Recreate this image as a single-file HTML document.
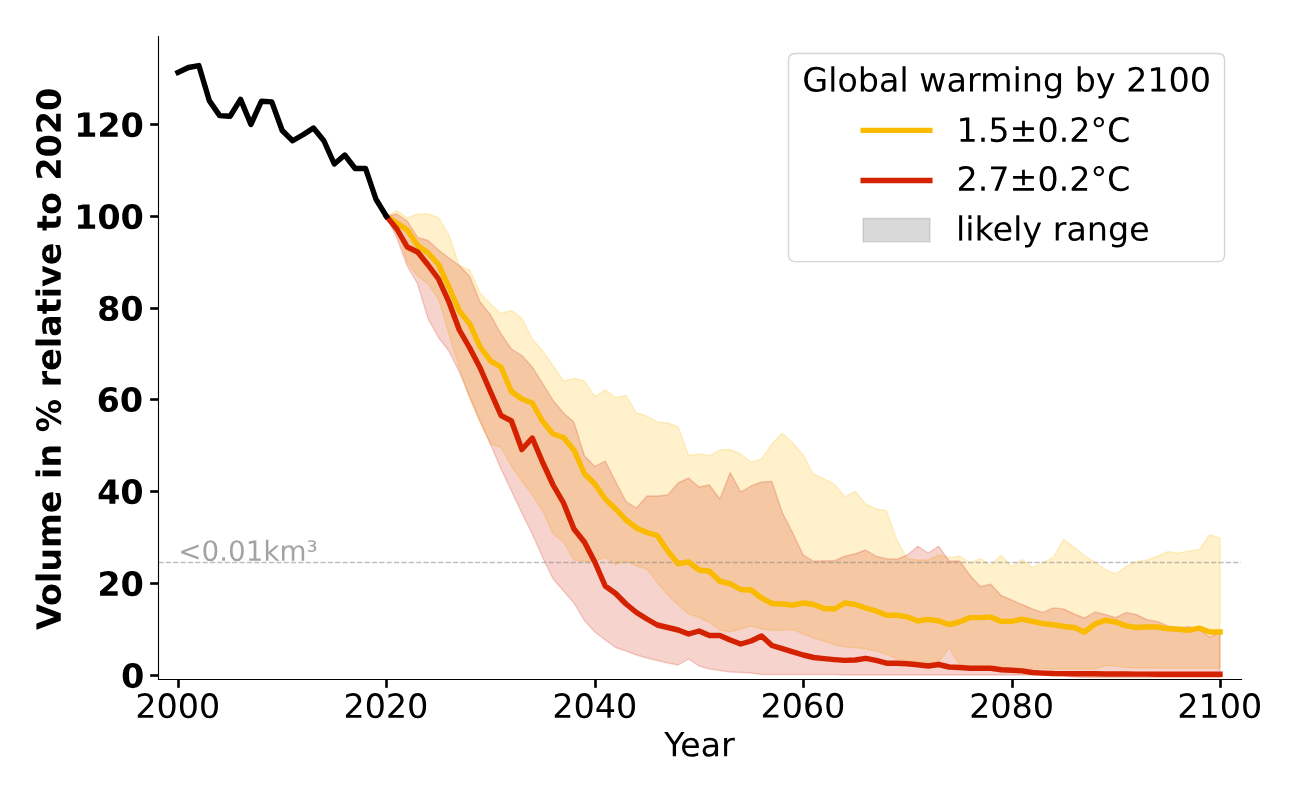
<!DOCTYPE html>
<html lang="en"><head><meta charset="utf-8"><title>Volume in % relative to 2020 - Global warming by 2100</title><style>html,body{margin:0;padding:0;background:#fff;overflow:hidden;font-family:"Liberation Sans",sans-serif}#chart{position:relative;width:1300px;height:800px}svg{display:block;position:absolute;left:0;top:0}.tl{position:absolute;left:0;top:0;width:1300px;height:800px;pointer-events:none}.tl span{position:absolute;color:transparent;white-space:nowrap;line-height:1;font-family:"Liberation Sans",sans-serif}</style></head><body>
<div id="chart">
<svg width="1300" height="800" viewBox="0 0 936 576" version="1.1">
 <defs>
  <style type="text/css">*{stroke-linejoin: round; stroke-linecap: butt}</style>
 </defs>
 <g id="figure_1">
  <g id="patch_1">
   <path d="M 0 576 
L 936 576 
L 936 0 
L 0 0 
z
" style="fill: #ffffff"/>
  </g>
  <g id="axes_1">
   <g id="patch_2">
    <path d="M 113.76 489.06 
L 893.52 489.06 
L 893.52 25.92 
L 113.76 25.92 
z
" style="fill: #ffffff"/>
   </g>
   <g id="FillBetweenPolyCollection_1">
    <defs>
     <path id="m8008a99541" d="M 278.208 -420.3 
L 278.208 -420.3 
L 285.7104 -410.4 
L 293.2128 -387.36 
L 300.7152 -377.28 
L 308.2176 -371.52 
L 315.72 -360.72 
L 323.2224 -335.52 
L 330.7248 -311.04 
L 338.2272 -288.72 
L 345.7296 -271.44 
L 353.232 -256.32 
L 360.7344 -253.8 
L 368.2368 -240.48 
L 375.7392 -229.68 
L 383.2416 -219.6 
L 390.744 -208.08 
L 398.2464 -191.52 
L 405.7488 -185.76 
L 413.2512 -172.8 
L 420.7536 -171.72 
L 428.256 -171.72 
L 435.7584 -174.744 
L 443.2608 -169.488 
L 450.7632 -172.08 
L 458.2656 -168.48 
L 465.768 -166.32 
L 473.2704 -156.6 
L 480.7728 -147.6 
L 488.2752 -140.4 
L 495.7776 -133.92 
L 503.28 -131.4 
L 510.7824 -127.8 
L 518.2848 -122.4 
L 525.7872 -120.96 
L 533.2896 -123.12 
L 540.792 -125.28 
L 548.2944 -123.12 
L 555.7968 -122.256 
L 563.2992 -122.256 
L 570.8016 -122.76 
L 578.304 -119.52 
L 585.8064 -116.64 
L 593.3088 -114.3 
L 600.8112 -111.744 
L 608.3136 -110.16 
L 615.816 -109.62 
L 623.3184 -108.72 
L 630.8208 -107.28 
L 638.3232 -104.94 
L 645.8256 -101.448 
L 653.328 -100.08 
L 660.8304 -99.648 
L 668.3328 -99.072 
L 675.8352 -99.36 
L 683.3376 -109.62 
L 690.84 -97.2 
L 698.3424 -94.608 
L 705.8448 -94.608 
L 713.3472 -94.608 
L 720.8496 -94.608 
L 728.352 -94.608 
L 735.8544 -94.608 
L 743.3568 -94.608 
L 750.8592 -94.608 
L 758.3616 -94.32 
L 765.864 -94.32 
L 773.3664 -94.32 
L 780.8688 -94.32 
L 788.3712 -94.32 
L 795.8736 -96.84 
L 803.376 -96.264 
L 810.8784 -95.4 
L 818.3808 -95.04 
L 825.8832 -95.04 
L 833.3856 -95.04 
L 840.888 -94.824 
L 848.3904 -94.824 
L 855.8928 -94.824 
L 863.3952 -94.824 
L 870.8976 -94.824 
L 878.4 -94.824 
L 878.4 -188.568 
L 878.4 -188.568 
L 870.8976 -190.98 
L 863.3952 -180.432 
L 855.8928 -179.28 
L 848.3904 -177.696 
L 840.888 -178.848 
L 833.3856 -175.608 
L 825.8832 -172.8 
L 818.3808 -171.54 
L 810.8784 -168.3 
L 803.376 -162.648 
L 795.8736 -165.888 
L 788.3712 -171.144 
L 780.8688 -176.04 
L 773.3664 -182.088 
L 765.864 -187.74 
L 758.3616 -174.78 
L 750.8592 -170.712 
L 743.3568 -167.472 
L 735.8544 -173.16 
L 728.352 -167.976 
L 720.8496 -176.4 
L 713.3472 -168.624 
L 705.8448 -173.952 
L 698.3424 -170.712 
L 690.84 -175.536 
L 683.3376 -174.672 
L 675.8352 -176.4 
L 668.3328 -172.8 
L 660.8304 -172.8 
L 653.328 -173.7 
L 645.8256 -187.2 
L 638.3232 -208.26 
L 630.8208 -209.7 
L 623.3184 -212.94 
L 615.816 -222.3 
L 608.3136 -218.34 
L 600.8112 -227.34 
L 593.3088 -231.3 
L 585.8064 -234.36 
L 578.304 -248.4 
L 570.8016 -257.04 
L 563.2992 -264.24 
L 555.7968 -256.5 
L 548.2944 -245.52 
L 540.792 -243.36 
L 533.2896 -249.12 
L 525.7872 -252.36 
L 518.2848 -252 
L 510.7824 -248.04 
L 503.28 -249.12 
L 495.7776 -248.04 
L 488.2752 -268.56 
L 480.7728 -271.44 
L 473.2704 -272.16 
L 465.768 -276.48 
L 458.2656 -278.64 
L 450.7632 -291.24 
L 443.2608 -289.8 
L 435.7584 -295.2 
L 428.256 -290.52 
L 420.7536 -301.68 
L 413.2512 -303.624 
L 405.7488 -301.68 
L 398.2464 -312.84 
L 390.744 -323.28 
L 383.2416 -331.92 
L 375.7392 -347.04 
L 368.2368 -352.512 
L 360.7344 -350.28 
L 353.232 -357.12 
L 345.7296 -365.04 
L 338.2272 -381.6 
L 330.7248 -384.84 
L 323.2224 -406.8 
L 315.72 -419.4 
L 308.2176 -421.92 
L 300.7152 -421.92 
L 293.2128 -419.04 
L 285.7104 -424.44 
L 278.208 -420.3 
z
" style="stroke: #f9ba00; stroke-opacity: 0.2"/>
    </defs>
    <g clip-path="url(#p428e2b717a)">
     <use href="#m8008a99541" x="0" y="576" style="fill: #f9ba00; fill-opacity: 0.2; stroke: #f9ba00; stroke-opacity: 0.2"/>
    </g>
   </g>
   <g id="FillBetweenPolyCollection_2"/>
   <g id="FillBetweenPolyCollection_3">
    <defs>
     <path id="mc709fe1825" d="M 278.208 -420.3 
L 278.208 -420.3 
L 285.7104 -404.64 
L 293.2128 -384.48 
L 300.7152 -371.52 
L 308.2176 -346.5 
L 315.72 -333 
L 323.2224 -323.28 
L 330.7248 -308.16 
L 338.2272 -290.16 
L 345.7296 -272.52 
L 353.232 -255.96 
L 360.7344 -238.32 
L 368.2368 -222.48 
L 375.7392 -206.64 
L 383.2416 -191.52 
L 390.744 -174.6 
L 398.2464 -159.12 
L 405.7488 -150.48 
L 413.2512 -141.84 
L 420.7536 -129.24 
L 428.256 -120.96 
L 435.7584 -115.2 
L 443.2608 -109.8 
L 450.7632 -107.28 
L 458.2656 -104.4 
L 465.768 -102.24 
L 473.2704 -100.44 
L 480.7728 -98.64 
L 488.2752 -97.2 
L 495.7776 -101.52 
L 503.28 -96.48 
L 510.7824 -94.32 
L 518.2848 -93.24 
L 525.7872 -92.16 
L 533.2896 -91.8 
L 540.792 -91.44 
L 548.2944 -90.36 
L 555.7968 -90.36 
L 563.2992 -90.36 
L 570.8016 -90.36 
L 578.304 -90.36 
L 585.8064 -90.36 
L 593.3088 -90.36 
L 600.8112 -90.36 
L 608.3136 -90 
L 615.816 -90 
L 623.3184 -90 
L 630.8208 -90 
L 638.3232 -90 
L 645.8256 -90 
L 653.328 -90 
L 660.8304 -90 
L 668.3328 -90 
L 675.8352 -90 
L 683.3376 -90 
L 690.84 -90 
L 698.3424 -90 
L 705.8448 -90 
L 713.3472 -90 
L 720.8496 -90 
L 728.352 -90 
L 735.8544 -90 
L 743.3568 -90 
L 750.8592 -90 
L 758.3616 -89.64 
L 765.864 -89.28 
L 773.3664 -88.56 
L 780.8688 -88.2 
L 788.3712 -88.2 
L 795.8736 -88.2 
L 803.376 -88.2 
L 810.8784 -88.2 
L 818.3808 -88.2 
L 825.8832 -88.2 
L 833.3856 -88.2 
L 840.888 -88.2 
L 848.3904 -88.2 
L 855.8928 -88.2 
L 863.3952 -88.2 
L 870.8976 -88.2 
L 878.4 -88.2 
L 878.4 -120.528 
L 878.4 -120.528 
L 870.8976 -117.288 
L 863.3952 -122.94 
L 855.8928 -124.848 
L 848.3904 -124.2 
L 840.888 -125.352 
L 833.3856 -128.592 
L 825.8832 -129.744 
L 818.3808 -133.488 
L 810.8784 -135.072 
L 803.376 -131.328 
L 795.8736 -133.488 
L 788.3712 -135.36 
L 780.8688 -131.04 
L 773.3664 -133.92 
L 765.864 -137.52 
L 758.3616 -138.312 
L 750.8592 -135.072 
L 743.3568 -137.52 
L 735.8544 -140.76 
L 728.352 -144 
L 720.8496 -147.24 
L 713.3472 -155.34 
L 705.8448 -153.72 
L 698.3424 -161.82 
L 690.84 -172.08 
L 683.3376 -172.08 
L 675.8352 -182.7 
L 668.3328 -177.84 
L 660.8304 -182.7 
L 653.328 -176.4 
L 645.8256 -173.34 
L 638.3232 -173.7 
L 630.8208 -175.5 
L 623.3184 -180 
L 615.816 -177.3 
L 608.3136 -175.5 
L 600.8112 -172.26 
L 593.3088 -172.26 
L 585.8064 -171.9 
L 578.304 -176.4 
L 570.8016 -192.24 
L 563.2992 -207 
L 555.7968 -229.32 
L 548.2944 -228.96 
L 540.792 -226.08 
L 533.2896 -221.76 
L 525.7872 -235.8 
L 518.2848 -216.72 
L 510.7824 -226.8 
L 503.28 -225.36 
L 495.7776 -231.84 
L 488.2752 -228.24 
L 480.7728 -219.6 
L 473.2704 -218.88 
L 465.768 -218.88 
L 458.2656 -210.24 
L 450.7632 -214.92 
L 443.2608 -229.32 
L 435.7584 -244.08 
L 428.256 -240.12 
L 420.7536 -248.04 
L 413.2512 -272.16 
L 405.7488 -278.64 
L 398.2464 -287.64 
L 390.744 -299.88 
L 383.2416 -311.76 
L 375.7392 -320.04 
L 368.2368 -324.72 
L 360.7344 -335.52 
L 353.232 -349.2 
L 345.7296 -358.56 
L 338.2272 -376.92 
L 330.7248 -384.84 
L 323.2224 -390.24 
L 315.72 -396 
L 308.2176 -402.84 
L 300.7152 -405 
L 293.2128 -416.88 
L 285.7104 -421.92 
L 278.208 -420.3 
z
" style="stroke: #d42200; stroke-opacity: 0.2"/>
    </defs>
    <g clip-path="url(#p428e2b717a)">
     <use href="#mc709fe1825" x="0" y="576" style="fill: #d42200; fill-opacity: 0.2; stroke: #d42200; stroke-opacity: 0.2"/>
    </g>
   </g>
   <g id="dashline">
    <path d="M 114.1200 405.0000 
L 893.8800 405.0000 
" clip-path="url(#p428e2b717a)" style="fill: none; stroke-dasharray: 3.7,1.6; stroke-dashoffset: 0; stroke: #808080; stroke-opacity: 0.5"/>
   </g>
   <g id="matplotlib.axis_1">
    <g id="xtick_1">
     <g id="line2d_1">
      <defs>
       <path id="m389e25f28c" d="M 0 0 
L 0 6 
" style="stroke: #000000; stroke-width: 1.9"/>
      </defs>
      <g>
       <use href="#m389e25f28c" x="128.5200" y="489.2400" style="stroke: #000000; stroke-width: 1.9"/>
      </g>
     </g>
     <g id="xtl0" transform="translate(-0.180 0.000)">
      <!-- 2000 -->
      <g transform="translate(97.62 516.79625) scale(0.24 -0.24)">
       <defs>
        <path id="DejaVuSans-32" d="M 1228 531 
L 3431 531 
L 3431 0 
L 469 0 
L 469 531 
Q 828 903 1448 1529 
Q 2069 2156 2228 2338 
Q 2531 2678 2651 2914 
Q 2772 3150 2772 3378 
Q 2772 3750 2511 3984 
Q 2250 4219 1831 4219 
Q 1534 4219 1204 4116 
Q 875 4013 500 3803 
L 500 4441 
Q 881 4594 1212 4672 
Q 1544 4750 1819 4750 
Q 2544 4750 2975 4387 
Q 3406 4025 3406 3419 
Q 3406 3131 3298 2873 
Q 3191 2616 2906 2266 
Q 2828 2175 2409 1742 
Q 1991 1309 1228 531 
z
" transform="scale(0.015625)"/>
        <path id="DejaVuSans-30" d="M 2034 4250 
Q 1547 4250 1301 3770 
Q 1056 3291 1056 2328 
Q 1056 1369 1301 889 
Q 1547 409 2034 409 
Q 2525 409 2770 889 
Q 3016 1369 3016 2328 
Q 3016 3291 2770 3770 
Q 2525 4250 2034 4250 
z
M 2034 4750 
Q 2819 4750 3233 4129 
Q 3647 3509 3647 2328 
Q 3647 1150 3233 529 
Q 2819 -91 2034 -91 
Q 1250 -91 836 529 
Q 422 1150 422 2328 
Q 422 3509 836 4129 
Q 1250 4750 2034 4750 
z
" transform="scale(0.015625)"/>
       </defs>
       <use href="#DejaVuSans-32"/>
       <use href="#DejaVuSans-30" transform="translate(63.623047 0)"/>
       <use href="#DejaVuSans-30" transform="translate(127.246094 0)"/>
       <use href="#DejaVuSans-30" transform="translate(190.869141 0)"/>
      </g>
     </g>
    </g>
    <g id="xtick_2">
     <g id="line2d_2">
      <g>
       <use href="#m389e25f28c" x="278.2800" y="489.2400" style="stroke: #000000; stroke-width: 1.9"/>
      </g>
     </g>
     <g id="xtl1" transform="translate(-0.360 0.000)">
      <!-- 2020 -->
      <g transform="translate(247.668 516.79625) scale(0.24 -0.24)">
       <use href="#DejaVuSans-32"/>
       <use href="#DejaVuSans-30" transform="translate(63.623047 0)"/>
       <use href="#DejaVuSans-32" transform="translate(127.246094 0)"/>
       <use href="#DejaVuSans-30" transform="translate(190.869141 0)"/>
      </g>
     </g>
    </g>
    <g id="xtick_3">
     <g id="line2d_3">
      <g>
       <use href="#m389e25f28c" x="428.7600" y="489.2400" style="stroke: #000000; stroke-width: 1.9"/>
      </g>
     </g>
     <g id="xtl2" transform="translate(0.000 0.000)">
      <!-- 2040 -->
      <g transform="translate(397.716 516.79625) scale(0.24 -0.24)">
       <defs>
        <path id="DejaVuSans-34" d="M 2419 4116 
L 825 1625 
L 2419 1625 
L 2419 4116 
z
M 2253 4666 
L 3047 4666 
L 3047 1625 
L 3713 1625 
L 3713 1100 
L 3047 1100 
L 3047 0 
L 2419 0 
L 2419 1100 
L 313 1100 
L 313 1709 
L 2253 4666 
z
" transform="scale(0.015625)"/>
       </defs>
       <use href="#DejaVuSans-32"/>
       <use href="#DejaVuSans-30" transform="translate(63.623047 0)"/>
       <use href="#DejaVuSans-34" transform="translate(127.246094 0)"/>
       <use href="#DejaVuSans-30" transform="translate(190.869141 0)"/>
      </g>
     </g>
    </g>
    <g id="xtick_4">
     <g id="line2d_4">
      <g>
       <use href="#m389e25f28c" x="578.5200" y="489.2400" style="stroke: #000000; stroke-width: 1.9"/>
      </g>
     </g>
     <g id="xtl3" transform="translate(-0.180 -0.180)">
      <!-- 2060 -->
      <g transform="translate(547.764 516.79625) scale(0.24 -0.24)">
       <defs>
        <path id="DejaVuSans-36" d="M 2113 2584 
Q 1688 2584 1439 2293 
Q 1191 2003 1191 1497 
Q 1191 994 1439 701 
Q 1688 409 2113 409 
Q 2538 409 2786 701 
Q 3034 994 3034 1497 
Q 3034 2003 2786 2293 
Q 2538 2584 2113 2584 
z
M 3366 4563 
L 3366 3988 
Q 3128 4100 2886 4159 
Q 2644 4219 2406 4219 
Q 1781 4219 1451 3797 
Q 1122 3375 1075 2522 
Q 1259 2794 1537 2939 
Q 1816 3084 2150 3084 
Q 2853 3084 3261 2657 
Q 3669 2231 3669 1497 
Q 3669 778 3244 343 
Q 2819 -91 2113 -91 
Q 1303 -91 875 529 
Q 447 1150 447 2328 
Q 447 3434 972 4092 
Q 1497 4750 2381 4750 
Q 2619 4750 2861 4703 
Q 3103 4656 3366 4563 
z
" transform="scale(0.015625)"/>
       </defs>
       <use href="#DejaVuSans-32"/>
       <use href="#DejaVuSans-30" transform="translate(63.623047 0)"/>
       <use href="#DejaVuSans-36" transform="translate(127.246094 0)"/>
       <use href="#DejaVuSans-30" transform="translate(190.869141 0)"/>
      </g>
     </g>
    </g>
    <g id="xtick_5">
     <g id="line2d_5">
      <g>
       <use href="#m389e25f28c" x="729.0000" y="489.2400" style="stroke: #000000; stroke-width: 1.9"/>
      </g>
     </g>
     <g id="xtl4" transform="translate(0.000 0.000)">
      <!-- 2080 -->
      <g transform="translate(697.812 516.79625) scale(0.24 -0.24)">
       <defs>
        <path id="DejaVuSans-38" d="M 2034 2216 
Q 1584 2216 1326 1975 
Q 1069 1734 1069 1313 
Q 1069 891 1326 650 
Q 1584 409 2034 409 
Q 2484 409 2743 651 
Q 3003 894 3003 1313 
Q 3003 1734 2745 1975 
Q 2488 2216 2034 2216 
z
M 1403 2484 
Q 997 2584 770 2862 
Q 544 3141 544 3541 
Q 544 4100 942 4425 
Q 1341 4750 2034 4750 
Q 2731 4750 3128 4425 
Q 3525 4100 3525 3541 
Q 3525 3141 3298 2862 
Q 3072 2584 2669 2484 
Q 3125 2378 3379 2068 
Q 3634 1759 3634 1313 
Q 3634 634 3220 271 
Q 2806 -91 2034 -91 
Q 1263 -91 848 271 
Q 434 634 434 1313 
Q 434 1759 690 2068 
Q 947 2378 1403 2484 
z
M 1172 3481 
Q 1172 3119 1398 2916 
Q 1625 2713 2034 2713 
Q 2441 2713 2670 2916 
Q 2900 3119 2900 3481 
Q 2900 3844 2670 4047 
Q 2441 4250 2034 4250 
Q 1625 4250 1398 4047 
Q 1172 3844 1172 3481 
z
" transform="scale(0.015625)"/>
       </defs>
       <use href="#DejaVuSans-32"/>
       <use href="#DejaVuSans-30" transform="translate(63.623047 0)"/>
       <use href="#DejaVuSans-38" transform="translate(127.246094 0)"/>
       <use href="#DejaVuSans-30" transform="translate(190.869141 0)"/>
      </g>
     </g>
    </g>
    <g id="xtick_6">
     <g id="line2d_6">
      <g>
       <use href="#m389e25f28c" x="878.7600" y="489.2400" style="stroke: #000000; stroke-width: 1.9"/>
      </g>
     </g>
     <g id="xtl5" transform="translate(-0.180 0.000)">
      <!-- 2100 -->
      <g transform="translate(847.86 516.79625) scale(0.24 -0.24)">
       <defs>
        <path id="DejaVuSans-31" d="M 794 531 
L 1825 531 
L 1825 4091 
L 703 3866 
L 703 4441 
L 1819 4666 
L 2450 4666 
L 2450 531 
L 3481 531 
L 3481 0 
L 794 0 
L 794 531 
z
" transform="scale(0.015625)"/>
       </defs>
       <use href="#DejaVuSans-32"/>
       <use href="#DejaVuSans-31" transform="translate(63.623047 0)"/>
       <use href="#DejaVuSans-30" transform="translate(127.246094 0)"/>
       <use href="#DejaVuSans-30" transform="translate(190.869141 0)"/>
      </g>
     </g>
    </g>
    <g id="xlab" transform="translate(0.000 0.540)">
     <!-- Year -->
     <g transform="translate(478.23 544.02375) scale(0.24 -0.24)">
      <defs>
       <path id="DejaVuSans-59" d="M -13 4666 
L 666 4666 
L 1959 2747 
L 3244 4666 
L 3922 4666 
L 2272 2222 
L 2272 0 
L 1638 0 
L 1638 2222 
L -13 4666 
z
" transform="scale(0.015625)"/>
       <path id="DejaVuSans-65" d="M 3597 1894 
L 3597 1613 
L 953 1613 
Q 991 1019 1311 708 
Q 1631 397 2203 397 
Q 2534 397 2845 478 
Q 3156 559 3463 722 
L 3463 178 
Q 3153 47 2828 -22 
Q 2503 -91 2169 -91 
Q 1331 -91 842 396 
Q 353 884 353 1716 
Q 353 2575 817 3079 
Q 1281 3584 2069 3584 
Q 2775 3584 3186 3129 
Q 3597 2675 3597 1894 
z
M 3022 2063 
Q 3016 2534 2758 2815 
Q 2500 3097 2075 3097 
Q 1594 3097 1305 2825 
Q 1016 2553 972 2059 
L 3022 2063 
z
" transform="scale(0.015625)"/>
       <path id="DejaVuSans-61" d="M 2194 1759 
Q 1497 1759 1228 1600 
Q 959 1441 959 1056 
Q 959 750 1161 570 
Q 1363 391 1709 391 
Q 2188 391 2477 730 
Q 2766 1069 2766 1631 
L 2766 1759 
L 2194 1759 
z
M 3341 1997 
L 3341 0 
L 2766 0 
L 2766 531 
Q 2569 213 2275 61 
Q 1981 -91 1556 -91 
Q 1019 -91 701 211 
Q 384 513 384 1019 
Q 384 1609 779 1909 
Q 1175 2209 1959 2209 
L 2766 2209 
L 2766 2266 
Q 2766 2663 2505 2880 
Q 2244 3097 1772 3097 
Q 1472 3097 1187 3025 
Q 903 2953 641 2809 
L 641 3341 
Q 956 3463 1253 3523 
Q 1550 3584 1831 3584 
Q 2591 3584 2966 3190 
Q 3341 2797 3341 1997 
z
" transform="scale(0.015625)"/>
       <path id="DejaVuSans-72" d="M 2631 2963 
Q 2534 3019 2420 3045 
Q 2306 3072 2169 3072 
Q 1681 3072 1420 2755 
Q 1159 2438 1159 1844 
L 1159 0 
L 581 0 
L 581 3500 
L 1159 3500 
L 1159 2956 
Q 1341 3275 1631 3429 
Q 1922 3584 2338 3584 
Q 2397 3584 2469 3576 
Q 2541 3569 2628 3553 
L 2631 2963 
z
" transform="scale(0.015625)"/>
      </defs>
      <use href="#DejaVuSans-59"/>
      <use href="#DejaVuSans-65" transform="translate(47.833984 0)"/>
      <use href="#DejaVuSans-61" transform="translate(109.357422 0)"/>
      <use href="#DejaVuSans-72" transform="translate(170.636719 0)"/>
     </g>
    </g>
   </g>
   <g id="matplotlib.axis_2">
    <g id="ytick_1">
     <g id="line2d_7">
      <defs>
       <path id="md896b03e3c" d="M 0 0 
L -6 0 
" style="stroke: #000000; stroke-width: 1.9"/>
      </defs>
      <g>
       <use href="#md896b03e3c" x="114.1200" y="486.3600" style="stroke: #000000; stroke-width: 1.9"/>
      </g>
     </g>
     <g id="ytl0" transform="translate(0.360 0.000)">
      <!-- 0 -->
      <g transform="translate(86.84125 495.118125) scale(0.24 -0.24)">
       <defs>
        <path id="DejaVuSans-Bold-30" d="M 2944 2338 
Q 2944 3213 2780 3570 
Q 2616 3928 2228 3928 
Q 1841 3928 1675 3570 
Q 1509 3213 1509 2338 
Q 1509 1453 1675 1090 
Q 1841 728 2228 728 
Q 2613 728 2778 1090 
Q 2944 1453 2944 2338 
z
M 4147 2328 
Q 4147 1169 3647 539 
Q 3147 -91 2228 -91 
Q 1306 -91 806 539 
Q 306 1169 306 2328 
Q 306 3491 806 4120 
Q 1306 4750 2228 4750 
Q 3147 4750 3647 4120 
Q 4147 3491 4147 2328 
z
" transform="scale(0.015625)"/>
       </defs>
       <use href="#DejaVuSans-Bold-30"/>
      </g>
     </g>
    </g>
    <g id="ytick_2">
     <g id="line2d_8">
      <g>
       <use href="#md896b03e3c" x="114.1200" y="420.1200" style="stroke: #000000; stroke-width: 1.9"/>
      </g>
     </g>
     <g id="ytl1" transform="translate(0.000 0.000)">
      <!-- 20 -->
      <g transform="translate(70.1425 428.993325) scale(0.24 -0.24)">
       <defs>
        <path id="DejaVuSans-Bold-32" d="M 1844 884 
L 3897 884 
L 3897 0 
L 506 0 
L 506 884 
L 2209 2388 
Q 2438 2594 2547 2791 
Q 2656 2988 2656 3200 
Q 2656 3528 2436 3728 
Q 2216 3928 1850 3928 
Q 1569 3928 1234 3808 
Q 900 3688 519 3450 
L 519 4475 
Q 925 4609 1322 4679 
Q 1719 4750 2100 4750 
Q 2938 4750 3402 4381 
Q 3866 4013 3866 3353 
Q 3866 2972 3669 2642 
Q 3472 2313 2841 1759 
L 1844 884 
z
" transform="scale(0.015625)"/>
       </defs>
       <use href="#DejaVuSans-Bold-32"/>
       <use href="#DejaVuSans-Bold-30" transform="translate(69.580078 0)"/>
      </g>
     </g>
    </g>
    <g id="ytick_3">
     <g id="line2d_9">
      <g>
       <use href="#md896b03e3c" x="114.1200" y="353.8800" style="stroke: #000000; stroke-width: 1.9"/>
      </g>
     </g>
     <g id="ytl2" transform="translate(-0.180 -0.180)">
      <!-- 40 -->
      <g transform="translate(70.1425 362.868525) scale(0.24 -0.24)">
       <defs>
        <path id="DejaVuSans-Bold-34" d="M 2356 3675 
L 1038 1722 
L 2356 1722 
L 2356 3675 
z
M 2156 4666 
L 3494 4666 
L 3494 1722 
L 4159 1722 
L 4159 850 
L 3494 850 
L 3494 0 
L 2356 0 
L 2356 850 
L 288 850 
L 288 1881 
L 2156 4666 
z
" transform="scale(0.015625)"/>
       </defs>
       <use href="#DejaVuSans-Bold-34"/>
       <use href="#DejaVuSans-Bold-30" transform="translate(69.580078 0)"/>
      </g>
     </g>
    </g>
    <g id="ytick_4">
     <g id="line2d_10">
      <g>
       <use href="#md896b03e3c" x="114.1200" y="287.6400" style="stroke: #000000; stroke-width: 1.9"/>
      </g>
     </g>
     <g id="ytl3" transform="translate(-0.540 -0.360)">
      <!-- 60 -->
      <g transform="translate(70.1425 296.743725) scale(0.24 -0.24)">
       <defs>
        <path id="DejaVuSans-Bold-36" d="M 2316 2303 
Q 2000 2303 1842 2098 
Q 1684 1894 1684 1484 
Q 1684 1075 1842 870 
Q 2000 666 2316 666 
Q 2634 666 2792 870 
Q 2950 1075 2950 1484 
Q 2950 1894 2792 2098 
Q 2634 2303 2316 2303 
z
M 3803 4544 
L 3803 3681 
Q 3506 3822 3243 3889 
Q 2981 3956 2731 3956 
Q 2194 3956 1894 3657 
Q 1594 3359 1544 2772 
Q 1750 2925 1990 3001 
Q 2231 3078 2516 3078 
Q 3231 3078 3670 2659 
Q 4109 2241 4109 1563 
Q 4109 813 3618 361 
Q 3128 -91 2303 -91 
Q 1394 -91 895 523 
Q 397 1138 397 2266 
Q 397 3422 980 4083 
Q 1563 4744 2578 4744 
Q 2900 4744 3203 4694 
Q 3506 4644 3803 4544 
z
" transform="scale(0.015625)"/>
       </defs>
       <use href="#DejaVuSans-Bold-36"/>
       <use href="#DejaVuSans-Bold-30" transform="translate(69.580078 0)"/>
      </g>
     </g>
    </g>
    <g id="ytick_5">
     <g id="line2d_11">
      <g>
       <use href="#md896b03e3c" x="114.1200" y="222.1200" style="stroke: #000000; stroke-width: 1.9"/>
      </g>
     </g>
     <g id="ytl4" transform="translate(-0.180 0.180)">
      <!-- 80 -->
      <g transform="translate(70.1425 230.618925) scale(0.24 -0.24)">
       <defs>
        <path id="DejaVuSans-Bold-38" d="M 2228 2088 
Q 1891 2088 1709 1903 
Q 1528 1719 1528 1375 
Q 1528 1031 1709 848 
Q 1891 666 2228 666 
Q 2563 666 2741 848 
Q 2919 1031 2919 1375 
Q 2919 1722 2741 1905 
Q 2563 2088 2228 2088 
z
M 1350 2484 
Q 925 2613 709 2878 
Q 494 3144 494 3541 
Q 494 4131 934 4440 
Q 1375 4750 2228 4750 
Q 3075 4750 3515 4442 
Q 3956 4134 3956 3541 
Q 3956 3144 3739 2878 
Q 3522 2613 3097 2484 
Q 3572 2353 3814 2058 
Q 4056 1763 4056 1313 
Q 4056 619 3595 264 
Q 3134 -91 2228 -91 
Q 1319 -91 855 264 
Q 391 619 391 1313 
Q 391 1763 633 2058 
Q 875 2353 1350 2484 
z
M 1631 3419 
Q 1631 3141 1786 2991 
Q 1941 2841 2228 2841 
Q 2509 2841 2662 2991 
Q 2816 3141 2816 3419 
Q 2816 3697 2662 3845 
Q 2509 3994 2228 3994 
Q 1941 3994 1786 3844 
Q 1631 3694 1631 3419 
z
" transform="scale(0.015625)"/>
       </defs>
       <use href="#DejaVuSans-Bold-38"/>
       <use href="#DejaVuSans-Bold-30" transform="translate(69.580078 0)"/>
      </g>
     </g>
    </g>
    <g id="ytick_6">
     <g id="line2d_12">
      <g>
       <use href="#md896b03e3c" x="114.1200" y="155.8800" style="stroke: #000000; stroke-width: 1.9"/>
      </g>
     </g>
     <g id="ytl5" transform="translate(0.000 0.180)">
      <!-- 100 -->
      <g transform="translate(53.44375 164.494125) scale(0.24 -0.24)">
       <defs>
        <path id="DejaVuSans-Bold-31" d="M 750 831 
L 1813 831 
L 1813 3847 
L 722 3622 
L 722 4441 
L 1806 4666 
L 2950 4666 
L 2950 831 
L 4013 831 
L 4013 0 
L 750 0 
L 750 831 
z
" transform="scale(0.015625)"/>
       </defs>
       <use href="#DejaVuSans-Bold-31"/>
       <use href="#DejaVuSans-Bold-30" transform="translate(69.580078 0)"/>
       <use href="#DejaVuSans-Bold-30" transform="translate(139.160156 0)"/>
      </g>
     </g>
    </g>
    <g id="ytick_7">
     <g id="line2d_13">
      <g>
       <use href="#md896b03e3c" x="114.1200" y="89.6400" style="stroke: #000000; stroke-width: 1.9"/>
      </g>
     </g>
     <g id="ytl6" transform="translate(0.000 0.180)">
      <!-- 120 -->
      <g transform="translate(53.44375 98.369325) scale(0.24 -0.24)">
       <use href="#DejaVuSans-Bold-31"/>
       <use href="#DejaVuSans-Bold-32" transform="translate(69.580078 0)"/>
       <use href="#DejaVuSans-Bold-30" transform="translate(139.160156 0)"/>
      </g>
     </g>
    </g>
    <g id="ylab" transform="translate(-0.720 0.900)">
     <!-- Volume in % relative to 2020 -->
     <g transform="translate(44.4525 452.686875) rotate(-90) scale(0.24 -0.24)">
      <defs>
       <path id="DejaVuSans-Bold-56" d="M 31 4666 
L 1241 4666 
L 2478 1222 
L 3713 4666 
L 4922 4666 
L 3194 0 
L 1759 0 
L 31 4666 
z
" transform="scale(0.015625)"/>
       <path id="DejaVuSans-Bold-6f" d="M 2203 2784 
Q 1831 2784 1636 2517 
Q 1441 2250 1441 1747 
Q 1441 1244 1636 976 
Q 1831 709 2203 709 
Q 2569 709 2762 976 
Q 2956 1244 2956 1747 
Q 2956 2250 2762 2517 
Q 2569 2784 2203 2784 
z
M 2203 3584 
Q 3106 3584 3614 3096 
Q 4122 2609 4122 1747 
Q 4122 884 3614 396 
Q 3106 -91 2203 -91 
Q 1297 -91 786 396 
Q 275 884 275 1747 
Q 275 2609 786 3096 
Q 1297 3584 2203 3584 
z
" transform="scale(0.015625)"/>
       <path id="DejaVuSans-Bold-6c" d="M 538 4863 
L 1656 4863 
L 1656 0 
L 538 0 
L 538 4863 
z
" transform="scale(0.015625)"/>
       <path id="DejaVuSans-Bold-75" d="M 500 1363 
L 500 3500 
L 1625 3500 
L 1625 3150 
Q 1625 2866 1622 2436 
Q 1619 2006 1619 1863 
Q 1619 1441 1641 1255 
Q 1663 1069 1716 984 
Q 1784 875 1895 815 
Q 2006 756 2150 756 
Q 2500 756 2700 1025 
Q 2900 1294 2900 1772 
L 2900 3500 
L 4019 3500 
L 4019 0 
L 2900 0 
L 2900 506 
Q 2647 200 2364 54 
Q 2081 -91 1741 -91 
Q 1134 -91 817 281 
Q 500 653 500 1363 
z
" transform="scale(0.015625)"/>
       <path id="DejaVuSans-Bold-6d" d="M 3781 2919 
Q 3994 3244 4286 3414 
Q 4578 3584 4928 3584 
Q 5531 3584 5847 3212 
Q 6163 2841 6163 2131 
L 6163 0 
L 5038 0 
L 5038 1825 
Q 5041 1866 5042 1909 
Q 5044 1953 5044 2034 
Q 5044 2406 4934 2573 
Q 4825 2741 4581 2741 
Q 4263 2741 4089 2478 
Q 3916 2216 3909 1719 
L 3909 0 
L 2784 0 
L 2784 1825 
Q 2784 2406 2684 2573 
Q 2584 2741 2328 2741 
Q 2006 2741 1831 2477 
Q 1656 2213 1656 1722 
L 1656 0 
L 531 0 
L 531 3500 
L 1656 3500 
L 1656 2988 
Q 1863 3284 2130 3434 
Q 2397 3584 2719 3584 
Q 3081 3584 3359 3409 
Q 3638 3234 3781 2919 
z
" transform="scale(0.015625)"/>
       <path id="DejaVuSans-Bold-65" d="M 4031 1759 
L 4031 1441 
L 1416 1441 
Q 1456 1047 1700 850 
Q 1944 653 2381 653 
Q 2734 653 3104 758 
Q 3475 863 3866 1075 
L 3866 213 
Q 3469 63 3072 -14 
Q 2675 -91 2278 -91 
Q 1328 -91 801 392 
Q 275 875 275 1747 
Q 275 2603 792 3093 
Q 1309 3584 2216 3584 
Q 3041 3584 3536 3087 
Q 4031 2591 4031 1759 
z
M 2881 2131 
Q 2881 2450 2695 2645 
Q 2509 2841 2209 2841 
Q 1884 2841 1681 2658 
Q 1478 2475 1428 2131 
L 2881 2131 
z
" transform="scale(0.015625)"/>
       <path id="DejaVuSans-Bold-20" transform="scale(0.015625)"/>
       <path id="DejaVuSans-Bold-69" d="M 538 3500 
L 1656 3500 
L 1656 0 
L 538 0 
L 538 3500 
z
M 538 4863 
L 1656 4863 
L 1656 3950 
L 538 3950 
L 538 4863 
z
" transform="scale(0.015625)"/>
       <path id="DejaVuSans-Bold-6e" d="M 4056 2131 
L 4056 0 
L 2931 0 
L 2931 347 
L 2931 1631 
Q 2931 2084 2911 2256 
Q 2891 2428 2841 2509 
Q 2775 2619 2662 2680 
Q 2550 2741 2406 2741 
Q 2056 2741 1856 2470 
Q 1656 2200 1656 1722 
L 1656 0 
L 538 0 
L 538 3500 
L 1656 3500 
L 1656 2988 
Q 1909 3294 2193 3439 
Q 2478 3584 2822 3584 
Q 3428 3584 3742 3212 
Q 4056 2841 4056 2131 
z
" transform="scale(0.015625)"/>
       <path id="DejaVuSans-Bold-25" d="M 4959 1925 
Q 4738 1925 4616 1733 
Q 4494 1541 4494 1184 
Q 4494 825 4614 633 
Q 4734 441 4959 441 
Q 5184 441 5303 633 
Q 5422 825 5422 1184 
Q 5422 1541 5301 1733 
Q 5181 1925 4959 1925 
z
M 4959 2450 
Q 5541 2450 5875 2112 
Q 6209 1775 6209 1184 
Q 6209 594 5875 251 
Q 5541 -91 4959 -91 
Q 4378 -91 4042 251 
Q 3706 594 3706 1184 
Q 3706 1772 4042 2111 
Q 4378 2450 4959 2450 
z
M 2094 -91 
L 1403 -91 
L 4319 4750 
L 5013 4750 
L 2094 -91 
z
M 1453 4750 
Q 2034 4750 2367 4411 
Q 2700 4072 2700 3481 
Q 2700 2891 2367 2550 
Q 2034 2209 1453 2209 
Q 872 2209 539 2550 
Q 206 2891 206 3481 
Q 206 4072 539 4411 
Q 872 4750 1453 4750 
z
M 1453 4225 
Q 1228 4225 1106 4031 
Q 984 3838 984 3481 
Q 984 3122 1106 2926 
Q 1228 2731 1453 2731 
Q 1678 2731 1798 2926 
Q 1919 3122 1919 3481 
Q 1919 3838 1797 4031 
Q 1675 4225 1453 4225 
z
" transform="scale(0.015625)"/>
       <path id="DejaVuSans-Bold-72" d="M 3138 2547 
Q 2991 2616 2845 2648 
Q 2700 2681 2553 2681 
Q 2122 2681 1889 2404 
Q 1656 2128 1656 1613 
L 1656 0 
L 538 0 
L 538 3500 
L 1656 3500 
L 1656 2925 
Q 1872 3269 2151 3426 
Q 2431 3584 2822 3584 
Q 2878 3584 2943 3579 
Q 3009 3575 3134 3559 
L 3138 2547 
z
" transform="scale(0.015625)"/>
       <path id="DejaVuSans-Bold-61" d="M 2106 1575 
Q 1756 1575 1579 1456 
Q 1403 1338 1403 1106 
Q 1403 894 1545 773 
Q 1688 653 1941 653 
Q 2256 653 2472 879 
Q 2688 1106 2688 1447 
L 2688 1575 
L 2106 1575 
z
M 3816 1997 
L 3816 0 
L 2688 0 
L 2688 519 
Q 2463 200 2181 54 
Q 1900 -91 1497 -91 
Q 953 -91 614 226 
Q 275 544 275 1050 
Q 275 1666 698 1953 
Q 1122 2241 2028 2241 
L 2688 2241 
L 2688 2328 
Q 2688 2594 2478 2717 
Q 2269 2841 1825 2841 
Q 1466 2841 1156 2769 
Q 847 2697 581 2553 
L 581 3406 
Q 941 3494 1303 3539 
Q 1666 3584 2028 3584 
Q 2975 3584 3395 3211 
Q 3816 2838 3816 1997 
z
" transform="scale(0.015625)"/>
       <path id="DejaVuSans-Bold-74" d="M 1759 4494 
L 1759 3500 
L 2913 3500 
L 2913 2700 
L 1759 2700 
L 1759 1216 
Q 1759 972 1856 886 
Q 1953 800 2241 800 
L 2816 800 
L 2816 0 
L 1856 0 
Q 1194 0 917 276 
Q 641 553 641 1216 
L 641 2700 
L 84 2700 
L 84 3500 
L 641 3500 
L 641 4494 
L 1759 4494 
z
" transform="scale(0.015625)"/>
       <path id="DejaVuSans-Bold-76" d="M 97 3500 
L 1216 3500 
L 2088 1081 
L 2956 3500 
L 4078 3500 
L 2700 0 
L 1472 0 
L 97 3500 
z
" transform="scale(0.015625)"/>
      </defs>
      <use href="#DejaVuSans-Bold-56"/>
      <use href="#DejaVuSans-Bold-6f" transform="translate(71.892578 0)"/>
      <use href="#DejaVuSans-Bold-6c" transform="translate(140.59375 0)"/>
      <use href="#DejaVuSans-Bold-75" transform="translate(174.871094 0)"/>
      <use href="#DejaVuSans-Bold-6d" transform="translate(246.0625 0)"/>
      <use href="#DejaVuSans-Bold-65" transform="translate(350.261719 0)"/>
      <use href="#DejaVuSans-Bold-20" transform="translate(418.083984 0)"/>
      <use href="#DejaVuSans-Bold-69" transform="translate(452.898438 0)"/>
      <use href="#DejaVuSans-Bold-6e" transform="translate(487.175781 0)"/>
      <use href="#DejaVuSans-Bold-20" transform="translate(558.367188 0)"/>
      <use href="#DejaVuSans-Bold-25" transform="translate(593.181641 0)"/>
      <use href="#DejaVuSans-Bold-20" transform="translate(693.376953 0)"/>
      <use href="#DejaVuSans-Bold-72" transform="translate(728.191406 0)"/>
      <use href="#DejaVuSans-Bold-65" transform="translate(777.507812 0)"/>
      <use href="#DejaVuSans-Bold-6c" transform="translate(845.330078 0)"/>
      <use href="#DejaVuSans-Bold-61" transform="translate(879.607422 0)"/>
      <use href="#DejaVuSans-Bold-74" transform="translate(947.087891 0)"/>
      <use href="#DejaVuSans-Bold-69" transform="translate(994.890625 0)"/>
      <use href="#DejaVuSans-Bold-76" transform="translate(1029.167969 0)"/>
      <use href="#DejaVuSans-Bold-65" transform="translate(1094.353516 0)"/>
      <use href="#DejaVuSans-Bold-20" transform="translate(1162.175781 0)"/>
      <use href="#DejaVuSans-Bold-74" transform="translate(1196.990234 0)"/>
      <use href="#DejaVuSans-Bold-6f" transform="translate(1244.792969 0)"/>
      <use href="#DejaVuSans-Bold-20" transform="translate(1313.494141 0)"/>
      <use href="#DejaVuSans-Bold-32" transform="translate(1348.308594 0)"/>
      <use href="#DejaVuSans-Bold-30" transform="translate(1417.888672 0)"/>
      <use href="#DejaVuSans-Bold-32" transform="translate(1487.46875 0)"/>
      <use href="#DejaVuSans-Bold-30" transform="translate(1557.048828 0)"/>
     </g>
    </g>
   </g>
   <g id="line2d_14">
    <path d="M 278.208 155.7 
L 285.7104 160.56 
L 293.2128 165.6 
L 300.7152 176.76 
L 308.2176 182.16 
L 315.72 190.44 
L 323.2224 206.64 
L 330.7248 223.92 
L 338.2272 233.28 
L 345.7296 249.84 
L 353.232 259.92 
L 360.7344 264.24 
L 368.2368 281.88 
L 375.7392 287.28 
L 383.2416 290.16 
L 390.744 303.48 
L 398.2464 312.48 
L 405.7488 315 
L 413.2512 324 
L 420.7536 340.92 
L 428.256 348.48 
L 435.7584 359.28 
L 443.2608 366.48 
L 450.7632 374.4 
L 458.2656 380.16 
L 465.768 383.4 
L 473.2704 385.56 
L 480.7728 396.72 
L 488.2752 405.9 
L 495.7776 404.64 
L 503.28 410.4 
L 510.7824 411.3 
L 518.2848 418.5 
L 525.7872 420.3 
L 533.2896 424.44 
L 540.792 424.8 
L 548.2944 430.56 
L 555.7968 434.52 
L 563.2992 434.88 
L 570.8016 435.6 
L 578.304 434.16 
L 585.8064 435.24 
L 593.3088 438.12 
L 600.8112 438.48 
L 608.3136 434.16 
L 615.816 435.24 
L 623.3184 437.76 
L 630.8208 439.92 
L 638.3232 442.98 
L 645.8256 442.98 
L 653.328 444.168 
L 660.8304 447.12 
L 668.3328 445.896 
L 675.8352 447.12 
L 683.3376 449.64 
L 690.84 447.84 
L 698.3424 444.672 
L 705.8448 444.672 
L 713.3472 444.168 
L 720.8496 447.408 
L 728.352 447.408 
L 735.8544 445.752 
L 743.3568 447.408 
L 750.8592 448.992 
L 758.3616 449.82 
L 765.864 451.08 
L 773.3664 451.8 
L 780.8688 455.04 
L 788.3712 449.28 
L 795.8736 446.58 
L 803.376 447.84 
L 810.8784 450.648 
L 818.3808 451.8 
L 825.8832 451.44 
L 833.3856 451.44 
L 840.888 452.736 
L 848.3904 453.06 
L 855.8928 453.888 
L 863.3952 452.232 
L 870.8976 455.04 
L 878.4 455.04 
" clip-path="url(#p428e2b717a)" style="fill: none; stroke: #f9ba00; stroke-width: 3.9; stroke-linecap: square"/>
   </g>
   <g id="line2d_15">
    <path d="M 278.208 155.7 
L 285.7104 164.88 
L 293.2128 177.84 
L 300.7152 181.44 
L 308.2176 190.8 
L 315.72 200.88 
L 323.2224 217.44 
L 330.7248 237.6 
L 338.2272 250.56 
L 345.7296 264.96 
L 353.232 282.24 
L 360.7344 299.16 
L 368.2368 303.12 
L 375.7392 323.64 
L 383.2416 315.36 
L 390.744 333 
L 398.2464 349.2 
L 405.7488 362.16 
L 413.2512 380.88 
L 420.7536 390.24 
L 428.256 404.64 
L 435.7584 421.92 
L 443.2608 427.32 
L 450.7632 434.88 
L 458.2656 441 
L 465.768 445.68 
L 473.2704 450 
L 480.7728 451.8 
L 488.2752 453.6 
L 495.7776 456.48 
L 503.28 454.32 
L 510.7824 457.56 
L 518.2848 457.56 
L 525.7872 460.8 
L 533.2896 463.68 
L 540.792 461.52 
L 548.2944 457.92 
L 555.7968 464.76 
L 563.2992 466.992 
L 570.8016 469.296 
L 578.304 471.6 
L 585.8064 473.4 
L 593.3088 474.192 
L 600.8112 474.912 
L 608.3136 475.488 
L 615.816 475.2 
L 623.3184 473.976 
L 630.8208 475.488 
L 638.3232 477.504 
L 645.8256 477.504 
L 653.328 477.864 
L 660.8304 478.656 
L 668.3328 479.52 
L 675.8352 478.44 
L 683.3376 480.24 
L 690.84 480.6 
L 698.3424 481.104 
L 705.8448 481.104 
L 713.3472 481.104 
L 720.8496 482.22 
L 728.352 482.544 
L 735.8544 483.048 
L 743.3568 484.2 
L 750.8592 484.632 
L 758.3616 484.92 
L 765.864 484.992 
L 773.3664 485.136 
L 780.8688 485.136 
L 788.3712 485.136 
L 795.8736 485.28 
L 803.376 485.28 
L 810.8784 485.28 
L 818.3808 485.352 
L 825.8832 485.352 
L 833.3856 485.424 
L 840.888 485.424 
L 848.3904 485.46 
L 855.8928 485.46 
L 863.3952 485.46 
L 870.8976 485.46 
L 878.4 485.46 
" clip-path="url(#p428e2b717a)" style="fill: none; stroke: #d42200; stroke-width: 3.9; stroke-linecap: square"/>
   </g>
   <g id="spineL">
    <path d="M 114.1200 489.2400 
L 114.1200 26.2800 
" style="fill: none; stroke: #000000; stroke-width: 0.8; stroke-linejoin: miter; stroke-linecap: square"/>
   </g>
   <g id="spineB">
    <path d="M 114.1200 489.2400 
L 893.8800 489.2400 
" style="fill: none; stroke: #000000; stroke-width: 0.8; stroke-linejoin: miter; stroke-linecap: square"/>
   </g>
   <g id="line2d_16">
    <path d="M 128.16 52.2 
L 135.6624 48.6 
L 143.1648 47.232 
L 150.6672 72.432 
L 158.1696 83.232 
L 165.672 83.7 
L 173.1744 71.568 
L 180.6768 89.568 
L 188.1792 72.9 
L 195.6816 73.368 
L 203.184 93.96 
L 210.6864 101.34 
L 218.1888 97.02 
L 225.6912 92.16 
L 233.1936 101.34 
L 240.696 118.08 
L 248.1984 111.6 
L 255.7008 121.32 
L 263.2032 121.32 
L 270.7056 143.46 
L 278.208 155.7 
" clip-path="url(#p428e2b717a)" style="fill: none; stroke: #000000; stroke-width: 3.9; stroke-linecap: square"/>
   </g>
   <g id="note" transform="translate(0.180 -0.180)">
    <!-- &lt;0.01km³ -->
    <g style="fill: #a3a3a3" transform="translate(128.16 403.92) scale(0.2 -0.2)">
     <defs>
      <path id="DejaVuSans-3c" d="M 4684 3150 
L 1459 2003 
L 4684 863 
L 4684 294 
L 678 1747 
L 678 2266 
L 4684 3719 
L 4684 3150 
z
" transform="scale(0.015625)"/>
      <path id="DejaVuSans-2e" d="M 684 794 
L 1344 794 
L 1344 0 
L 684 0 
L 684 794 
z
" transform="scale(0.015625)"/>
      <path id="DejaVuSans-6b" d="M 581 4863 
L 1159 4863 
L 1159 1991 
L 2875 3500 
L 3609 3500 
L 1753 1863 
L 3688 0 
L 2938 0 
L 1159 1709 
L 1159 0 
L 581 0 
L 581 4863 
z
" transform="scale(0.015625)"/>
      <path id="DejaVuSans-6d" d="M 3328 2828 
Q 3544 3216 3844 3400 
Q 4144 3584 4550 3584 
Q 5097 3584 5394 3201 
Q 5691 2819 5691 2113 
L 5691 0 
L 5113 0 
L 5113 2094 
Q 5113 2597 4934 2840 
Q 4756 3084 4391 3084 
Q 3944 3084 3684 2787 
Q 3425 2491 3425 1978 
L 3425 0 
L 2847 0 
L 2847 2094 
Q 2847 2600 2669 2842 
Q 2491 3084 2119 3084 
Q 1678 3084 1418 2786 
Q 1159 2488 1159 1978 
L 1159 0 
L 581 0 
L 581 3500 
L 1159 3500 
L 1159 2956 
Q 1356 3278 1631 3431 
Q 1906 3584 2284 3584 
Q 2666 3584 2933 3390 
Q 3200 3197 3328 2828 
z
" transform="scale(0.015625)"/>
      <path id="DejaVuSans-b3" d="M 1638 3500 
Q 1925 3444 2083 3273 
Q 2241 3103 2241 2847 
Q 2241 2459 1944 2250 
Q 1647 2041 1094 2041 
Q 916 2041 720 2073 
Q 525 2106 306 2169 
L 306 2547 
Q 469 2463 655 2422 
Q 841 2381 1050 2381 
Q 1391 2381 1578 2504 
Q 1766 2628 1766 2847 
Q 1766 3078 1592 3197 
Q 1419 3316 1081 3316 
L 813 3316 
L 813 3653 
L 1106 3653 
Q 1400 3653 1551 3751 
Q 1703 3850 1703 4038 
Q 1703 4219 1547 4314 
Q 1391 4409 1094 4409 
Q 969 4409 809 4381 
Q 650 4353 397 4281 
L 397 4641 
Q 625 4694 825 4722 
Q 1025 4750 1197 4750 
Q 1647 4750 1911 4565 
Q 2175 4381 2175 4072 
Q 2175 3856 2034 3706 
Q 1894 3556 1638 3500 
z
" transform="scale(0.015625)"/>
     </defs>
     <use href="#DejaVuSans-3c"/>
     <use href="#DejaVuSans-30" transform="translate(83.789062 0)"/>
     <use href="#DejaVuSans-2e" transform="translate(147.412109 0)"/>
     <use href="#DejaVuSans-30" transform="translate(179.199219 0)"/>
     <use href="#DejaVuSans-31" transform="translate(242.822266 0)"/>
     <use href="#DejaVuSans-6b" transform="translate(306.445312 0)"/>
     <use href="#DejaVuSans-6d" transform="translate(364.355469 0)"/>
     <use href="#DejaVuSans-b3" transform="translate(461.767578 0)"/>
    </g>
   </g>
   <g id="legend_1">
    <g id="legframe" transform="matrix(1.00174 0 0 1.01179 -1.350 0.125)">
     <path d="M 572.88375 186.03 
L 876.72 186.03 
Q 881.52 186.03 881.52 181.23 
L 881.52 42.72 
Q 881.52 37.92 876.72 37.92 
L 572.88375 37.92 
Q 568.08375 37.92 568.08375 42.72 
L 568.08375 181.23 
Q 568.08375 186.03 572.88375 186.03 
z
" style="fill: #ffffff; opacity: 0.8; stroke: #cccccc; stroke-linejoin: miter"/>
    </g>
    <g id="legtitle" transform="translate(0.000 0.180)">
     <!-- Global warming by 2100 -->
     <g transform="translate(577.68375 65.75625) scale(0.24 -0.24)">
      <defs>
       <path id="DejaVuSans-47" d="M 3809 666 
L 3809 1919 
L 2778 1919 
L 2778 2438 
L 4434 2438 
L 4434 434 
Q 4069 175 3628 42 
Q 3188 -91 2688 -91 
Q 1594 -91 976 548 
Q 359 1188 359 2328 
Q 359 3472 976 4111 
Q 1594 4750 2688 4750 
Q 3144 4750 3555 4637 
Q 3966 4525 4313 4306 
L 4313 3634 
Q 3963 3931 3569 4081 
Q 3175 4231 2741 4231 
Q 1884 4231 1454 3753 
Q 1025 3275 1025 2328 
Q 1025 1384 1454 906 
Q 1884 428 2741 428 
Q 3075 428 3337 486 
Q 3600 544 3809 666 
z
" transform="scale(0.015625)"/>
       <path id="DejaVuSans-6c" d="M 603 4863 
L 1178 4863 
L 1178 0 
L 603 0 
L 603 4863 
z
" transform="scale(0.015625)"/>
       <path id="DejaVuSans-6f" d="M 1959 3097 
Q 1497 3097 1228 2736 
Q 959 2375 959 1747 
Q 959 1119 1226 758 
Q 1494 397 1959 397 
Q 2419 397 2687 759 
Q 2956 1122 2956 1747 
Q 2956 2369 2687 2733 
Q 2419 3097 1959 3097 
z
M 1959 3584 
Q 2709 3584 3137 3096 
Q 3566 2609 3566 1747 
Q 3566 888 3137 398 
Q 2709 -91 1959 -91 
Q 1206 -91 779 398 
Q 353 888 353 1747 
Q 353 2609 779 3096 
Q 1206 3584 1959 3584 
z
" transform="scale(0.015625)"/>
       <path id="DejaVuSans-62" d="M 3116 1747 
Q 3116 2381 2855 2742 
Q 2594 3103 2138 3103 
Q 1681 3103 1420 2742 
Q 1159 2381 1159 1747 
Q 1159 1113 1420 752 
Q 1681 391 2138 391 
Q 2594 391 2855 752 
Q 3116 1113 3116 1747 
z
M 1159 2969 
Q 1341 3281 1617 3432 
Q 1894 3584 2278 3584 
Q 2916 3584 3314 3078 
Q 3713 2572 3713 1747 
Q 3713 922 3314 415 
Q 2916 -91 2278 -91 
Q 1894 -91 1617 61 
Q 1341 213 1159 525 
L 1159 0 
L 581 0 
L 581 4863 
L 1159 4863 
L 1159 2969 
z
" transform="scale(0.015625)"/>
       <path id="DejaVuSans-20" transform="scale(0.015625)"/>
       <path id="DejaVuSans-77" d="M 269 3500 
L 844 3500 
L 1563 769 
L 2278 3500 
L 2956 3500 
L 3675 769 
L 4391 3500 
L 4966 3500 
L 4050 0 
L 3372 0 
L 2619 2869 
L 1863 0 
L 1184 0 
L 269 3500 
z
" transform="scale(0.015625)"/>
       <path id="DejaVuSans-69" d="M 603 3500 
L 1178 3500 
L 1178 0 
L 603 0 
L 603 3500 
z
M 603 4863 
L 1178 4863 
L 1178 4134 
L 603 4134 
L 603 4863 
z
" transform="scale(0.015625)"/>
       <path id="DejaVuSans-6e" d="M 3513 2113 
L 3513 0 
L 2938 0 
L 2938 2094 
Q 2938 2591 2744 2837 
Q 2550 3084 2163 3084 
Q 1697 3084 1428 2787 
Q 1159 2491 1159 1978 
L 1159 0 
L 581 0 
L 581 3500 
L 1159 3500 
L 1159 2956 
Q 1366 3272 1645 3428 
Q 1925 3584 2291 3584 
Q 2894 3584 3203 3211 
Q 3513 2838 3513 2113 
z
" transform="scale(0.015625)"/>
       <path id="DejaVuSans-67" d="M 2906 1791 
Q 2906 2416 2648 2759 
Q 2391 3103 1925 3103 
Q 1463 3103 1205 2759 
Q 947 2416 947 1791 
Q 947 1169 1205 825 
Q 1463 481 1925 481 
Q 2391 481 2648 825 
Q 2906 1169 2906 1791 
z
M 3481 434 
Q 3481 -459 3084 -895 
Q 2688 -1331 1869 -1331 
Q 1566 -1331 1297 -1286 
Q 1028 -1241 775 -1147 
L 775 -588 
Q 1028 -725 1275 -790 
Q 1522 -856 1778 -856 
Q 2344 -856 2625 -561 
Q 2906 -266 2906 331 
L 2906 616 
Q 2728 306 2450 153 
Q 2172 0 1784 0 
Q 1141 0 747 490 
Q 353 981 353 1791 
Q 353 2603 747 3093 
Q 1141 3584 1784 3584 
Q 2172 3584 2450 3431 
Q 2728 3278 2906 2969 
L 2906 3500 
L 3481 3500 
L 3481 434 
z
" transform="scale(0.015625)"/>
       <path id="DejaVuSans-79" d="M 2059 -325 
Q 1816 -950 1584 -1140 
Q 1353 -1331 966 -1331 
L 506 -1331 
L 506 -850 
L 844 -850 
Q 1081 -850 1212 -737 
Q 1344 -625 1503 -206 
L 1606 56 
L 191 3500 
L 800 3500 
L 1894 763 
L 2988 3500 
L 3597 3500 
L 2059 -325 
z
" transform="scale(0.015625)"/>
      </defs>
      <use href="#DejaVuSans-47"/>
      <use href="#DejaVuSans-6c" transform="translate(77.490234 0)"/>
      <use href="#DejaVuSans-6f" transform="translate(105.273438 0)"/>
      <use href="#DejaVuSans-62" transform="translate(166.455078 0)"/>
      <use href="#DejaVuSans-61" transform="translate(229.931641 0)"/>
      <use href="#DejaVuSans-6c" transform="translate(291.210938 0)"/>
      <use href="#DejaVuSans-20" transform="translate(318.994141 0)"/>
      <use href="#DejaVuSans-77" transform="translate(350.78125 0)"/>
      <use href="#DejaVuSans-61" transform="translate(432.568359 0)"/>
      <use href="#DejaVuSans-72" transform="translate(493.847656 0)"/>
      <use href="#DejaVuSans-6d" transform="translate(533.210938 0)"/>
      <use href="#DejaVuSans-69" transform="translate(630.623047 0)"/>
      <use href="#DejaVuSans-6e" transform="translate(658.40625 0)"/>
      <use href="#DejaVuSans-67" transform="translate(721.785156 0)"/>
      <use href="#DejaVuSans-20" transform="translate(785.261719 0)"/>
      <use href="#DejaVuSans-62" transform="translate(817.048828 0)"/>
      <use href="#DejaVuSans-79" transform="translate(880.525391 0)"/>
      <use href="#DejaVuSans-20" transform="translate(939.705078 0)"/>
      <use href="#DejaVuSans-32" transform="translate(971.492188 0)"/>
      <use href="#DejaVuSans-31" transform="translate(1035.115234 0)"/>
      <use href="#DejaVuSans-30" transform="translate(1098.738281 0)"/>
      <use href="#DejaVuSans-30" transform="translate(1162.361328 0)"/>
     </g>
    </g>
    <g id="leghandle0" transform="translate(0.000 1.260)">
     <path d="M 621.493125 92.58375 
L 645.493125 92.58375 
L 669.493125 92.58375 
" style="fill: none; stroke: #f9ba00; stroke-width: 3.9; stroke-linecap: square"/>
    </g>
    <g id="legtext0" transform="translate(0.000 1.080)">
     <!-- 1.5±0.2°C -->
     <g transform="translate(688.693125 100.98375) scale(0.24 -0.24)">
      <defs>
       <path id="DejaVuSans-35" d="M 691 4666 
L 3169 4666 
L 3169 4134 
L 1269 4134 
L 1269 2991 
Q 1406 3038 1543 3061 
Q 1681 3084 1819 3084 
Q 2600 3084 3056 2656 
Q 3513 2228 3513 1497 
Q 3513 744 3044 326 
Q 2575 -91 1722 -91 
Q 1428 -91 1123 -41 
Q 819 9 494 109 
L 494 744 
Q 775 591 1075 516 
Q 1375 441 1709 441 
Q 2250 441 2565 725 
Q 2881 1009 2881 1497 
Q 2881 1984 2565 2268 
Q 2250 2553 1709 2553 
Q 1456 2553 1204 2497 
Q 953 2441 691 2322 
L 691 4666 
z
" transform="scale(0.015625)"/>
       <path id="DejaVuSans-b1" d="M 2944 4013 
L 2944 2803 
L 4684 2803 
L 4684 2272 
L 2944 2272 
L 2944 1063 
L 2419 1063 
L 2419 2272 
L 678 2272 
L 678 2803 
L 2419 2803 
L 2419 4013 
L 2944 4013 
z
M 678 531 
L 4684 531 
L 4684 0 
L 678 0 
L 678 531 
z
" transform="scale(0.015625)"/>
       <path id="DejaVuSans-b0" d="M 1600 4347 
Q 1350 4347 1178 4173 
Q 1006 4000 1006 3750 
Q 1006 3503 1178 3333 
Q 1350 3163 1600 3163 
Q 1850 3163 2022 3333 
Q 2194 3503 2194 3750 
Q 2194 3997 2020 4172 
Q 1847 4347 1600 4347 
z
M 1600 4750 
Q 1800 4750 1984 4673 
Q 2169 4597 2303 4453 
Q 2447 4313 2519 4134 
Q 2591 3956 2591 3750 
Q 2591 3338 2302 3052 
Q 2013 2766 1594 2766 
Q 1172 2766 890 3047 
Q 609 3328 609 3750 
Q 609 4169 896 4459 
Q 1184 4750 1600 4750 
z
" transform="scale(0.015625)"/>
       <path id="DejaVuSans-43" d="M 4122 4306 
L 4122 3641 
Q 3803 3938 3442 4084 
Q 3081 4231 2675 4231 
Q 1875 4231 1450 3742 
Q 1025 3253 1025 2328 
Q 1025 1406 1450 917 
Q 1875 428 2675 428 
Q 3081 428 3442 575 
Q 3803 722 4122 1019 
L 4122 359 
Q 3791 134 3420 21 
Q 3050 -91 2638 -91 
Q 1578 -91 968 557 
Q 359 1206 359 2328 
Q 359 3453 968 4101 
Q 1578 4750 2638 4750 
Q 3056 4750 3426 4639 
Q 3797 4528 4122 4306 
z
" transform="scale(0.015625)"/>
      </defs>
      <use href="#DejaVuSans-31"/>
      <use href="#DejaVuSans-2e" transform="translate(63.623047 0)"/>
      <use href="#DejaVuSans-35" transform="translate(95.410156 0)"/>
      <use href="#DejaVuSans-b1" transform="translate(159.033203 0)"/>
      <use href="#DejaVuSans-30" transform="translate(242.822266 0)"/>
      <use href="#DejaVuSans-2e" transform="translate(306.445312 0)"/>
      <use href="#DejaVuSans-32" transform="translate(338.232422 0)"/>
      <use href="#DejaVuSans-b0" transform="translate(401.855469 0)"/>
      <use href="#DejaVuSans-43" transform="translate(451.855469 0)"/>
     </g>
    </g>
    <g id="leghandle1" transform="translate(0.000 2.160)">
     <path d="M 621.493125 127.81125 
L 645.493125 127.81125 
L 669.493125 127.81125 
" style="fill: none; stroke: #d42200; stroke-width: 3.9; stroke-linecap: square"/>
    </g>
    <g id="legtext1" transform="translate(0.000 1.080)">
     <!-- 2.7±0.2°C -->
     <g transform="translate(688.693125 136.21125) scale(0.24 -0.24)">
      <defs>
       <path id="DejaVuSans-37" d="M 525 4666 
L 3525 4666 
L 3525 4397 
L 1831 0 
L 1172 0 
L 2766 4134 
L 525 4134 
L 525 4666 
z
" transform="scale(0.015625)"/>
      </defs>
      <use href="#DejaVuSans-32"/>
      <use href="#DejaVuSans-2e" transform="translate(63.623047 0)"/>
      <use href="#DejaVuSans-37" transform="translate(95.410156 0)"/>
      <use href="#DejaVuSans-b1" transform="translate(159.033203 0)"/>
      <use href="#DejaVuSans-30" transform="translate(242.822266 0)"/>
      <use href="#DejaVuSans-2e" transform="translate(306.445312 0)"/>
      <use href="#DejaVuSans-32" transform="translate(338.232422 0)"/>
      <use href="#DejaVuSans-b0" transform="translate(401.855469 0)"/>
      <use href="#DejaVuSans-43" transform="translate(451.855469 0)"/>
     </g>
    </g>
    <g id="leghandle2" transform="translate(0.000 2.700)">
     <path d="M 621.493125 171.43875 
L 669.493125 171.43875 
L 669.493125 154.63875 
L 621.493125 154.63875 
z
" style="fill: #808080; fill-opacity: 0.3; stroke: #808080; stroke-opacity: 0.3; stroke-linejoin: miter"/>
    </g>
    <g id="legtext2" transform="translate(-0.360 1.800)">
     <!-- likely range -->
     <g transform="translate(688.693125 171.43875) scale(0.24 -0.24)">
      <use href="#DejaVuSans-6c"/>
      <use href="#DejaVuSans-69" transform="translate(27.783203 0)"/>
      <use href="#DejaVuSans-6b" transform="translate(55.566406 0)"/>
      <use href="#DejaVuSans-65" transform="translate(109.851562 0)"/>
      <use href="#DejaVuSans-6c" transform="translate(171.375 0)"/>
      <use href="#DejaVuSans-79" transform="translate(199.158203 0)"/>
      <use href="#DejaVuSans-20" transform="translate(258.337891 0)"/>
      <use href="#DejaVuSans-72" transform="translate(290.125 0)"/>
      <use href="#DejaVuSans-61" transform="translate(331.238281 0)"/>
      <use href="#DejaVuSans-6e" transform="translate(392.517578 0)"/>
      <use href="#DejaVuSans-67" transform="translate(455.896484 0)"/>
      <use href="#DejaVuSans-65" transform="translate(519.373047 0)"/>
     </g>
    </g>
   </g>
  </g>
 </g>
 <defs>
  <clipPath id="p428e2b717a">
   <rect x="113.76" y="25.92" width="779.76" height="463.14"/>
  </clipPath>
 </defs>
</svg>

<div class="tl"><span style="left:144px;top:656px;font-size:33px;font-weight:bold;transform:translateX(-100%);">0</span><span style="left:144px;top:564px;font-size:33px;font-weight:bold;transform:translateX(-100%);">20</span><span style="left:144px;top:472px;font-size:33px;font-weight:bold;transform:translateX(-100%);">40</span><span style="left:144px;top:380px;font-size:33px;font-weight:bold;transform:translateX(-100%);">60</span><span style="left:144px;top:288px;font-size:33px;font-weight:bold;transform:translateX(-100%);">80</span><span style="left:144px;top:196px;font-size:33px;font-weight:bold;transform:translateX(-100%);">100</span><span style="left:144px;top:105px;font-size:33px;font-weight:bold;transform:translateX(-100%);">120</span><span style="left:178px;top:688px;font-size:33px;font-weight:normal;transform:translateX(-50%);">2000</span><span style="left:386px;top:688px;font-size:33px;font-weight:normal;transform:translateX(-50%);">2020</span><span style="left:594px;top:688px;font-size:33px;font-weight:normal;transform:translateX(-50%);">2040</span><span style="left:803px;top:688px;font-size:33px;font-weight:normal;transform:translateX(-50%);">2060</span><span style="left:1011px;top:688px;font-size:33px;font-weight:normal;transform:translateX(-50%);">2080</span><span style="left:1220px;top:688px;font-size:33px;font-weight:normal;transform:translateX(-50%);">2100</span><span style="left:700px;top:726px;font-size:33px;font-weight:normal;transform:translateX(-50%);">Year</span><span style="left:50px;top:359px;font-size:33px;font-weight:bold;transform:translate(-50%,-50%) rotate(-90deg);">Volume in % relative to 2020</span><span style="left:180px;top:533px;font-size:28px;font-weight:normal;">&lt;0.01km³</span><span style="left:803px;top:60px;font-size:33px;font-weight:normal;">Global warming by 2100</span><span style="left:958px;top:110px;font-size:33px;font-weight:normal;">1.5±0.2°C</span><span style="left:958px;top:159px;font-size:33px;font-weight:normal;">2.7±0.2°C</span><span style="left:958px;top:208px;font-size:33px;font-weight:normal;">likely range</span></div>
</div>
</body></html>
